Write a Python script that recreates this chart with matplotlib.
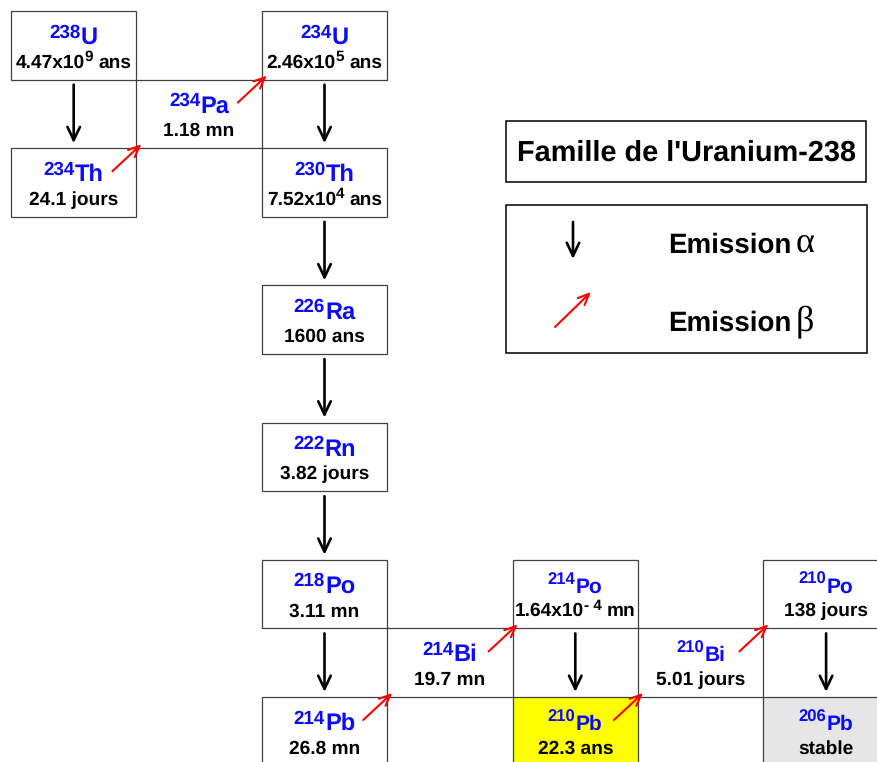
import re

import matplotlib
matplotlib.use('Agg')
import matplotlib.pyplot as plt
from matplotlib.patches import Rectangle, FancyArrowPatch

# Uranium-238 decay chain, in decay order
masses = [238, 234, 234, 234, 230, 226, 222, 218, 214, 214, 214, 210, 210, 210, 206]
symbols = ['U', 'Th', 'Pa', 'U', 'Th', 'Ra', 'Rn', 'Po', 'Pb', 'Bi', 'Po', 'Pb', 'Bi', 'Po', 'Pb']
half_lives = ['4.47x10^{9} ans', '24.1 jours', '1.18 mn', '2.46x10^{5} ans', '7.52x10^{4} ans',
              '1600 ans', '3.82 jours', '3.11 mn', '26.8 mn', '19.7 mn', '1.64x10^{- 4} mn',
              '22.3 ans', '5.01 jours', '138 jours', 'stable']
# decay mode of each nuclide (the last one is stable)
modes = ['a', 'b', 'b', 'a', 'a', 'a', 'a', 'a', 'b', 'b', 'a', 'b', 'b', 'a']

title = "Famille de l'Uranium-238"
legend_labels = ['Emission', 'Emission']
legend_greek = ['\u03b1', '\u03b2']

# layout: grid cell (column, half-row) of each nuclide
grid_col = [0, 0, 1, 2, 2, 2, 2, 2, 2, 3, 4, 4, 5, 6, 6]
grid_row = [0, 2, 1, 0, 2, 4, 6, 8, 10, 9, 8, 10, 9, 8, 10]

# style
W, H = 877, 762
X0, Y0, CW, CH = 11, 11, 125.4, 68.6
SANS = ['Liberation Sans', 'DejaVu Sans']
SERIF = ['Liberation Serif', 'DejaVu Serif']
BLUE = '#0a0aff'
fills = {11: '#ffff00', 14: '#e6e6e6'}
small_from = 10  # from 214Po on, the symbol is written smaller

plt.rcParams['text.hinting'] = 'no_hinting'

fig = plt.figure(figsize=(W / 100, H / 100), dpi=100)
ax = fig.add_axes([0, 0, 1, 1])
ax.set_xlim(0, W)
ax.set_ylim(H, 0)
ax.axis('off')
renderer = fig.canvas.get_renderer()


def rich(x, y, parts, align='center'):
    # lay text pieces side by side on one baseline
    placed = []
    for p in parts:
        t = ax.text(0, y - p.get('rise', 0), p['s'], fontsize=p['size'],
                    color=p.get('color', 'black'), fontweight=p.get('weight', 'bold'),
                    family=p.get('family', SANS), ha='left', va='baseline')
        placed.append((t, t.get_window_extent(renderer).width, p.get('gap', 0)))
    total = sum(w + g for _, w, g in placed)
    cx = x - total / 2 if align == 'center' else x
    for t, w, g in placed:
        cx += g
        t.set_x(cx)
        cx += w


def half_life_parts(s, size=13.8):
    parts = []
    for i, chunk in enumerate(re.split(r'\^\{(.*?)\}', s)):
        if not chunk:
            continue
        if i % 2:
            parts.append(dict(s=chunk, size=11, rise=6.5, gap=-0.5))
        else:
            gap = 0.278 * size / 0.72 if chunk.startswith(' ') else 0
            parts.append(dict(s=chunk.strip(), size=size, gap=gap))
    return parts


def cell(i):
    return X0 + grid_col[i] * CW, Y0 + grid_row[i] * CH


# boxes and labels
for i in range(len(masses)):
    x, y = cell(i)
    ax.add_patch(Rectangle((x, y), CW, CH, facecolor=fills.get(i, 'white'),
                           edgecolor='#404040', lw=0.9, zorder=1))
    cx = x + CW / 2
    if i >= small_from:
        sym = [dict(s=str(masses[i]), size=12, rise=8.5, color=BLUE),
               dict(s=symbols[i], size=15, color=BLUE, gap=0.5)]
    else:
        sym = [dict(s=str(masses[i]), size=13.5, rise=6.5, color=BLUE),
               dict(s=symbols[i], size=17, color=BLUE, gap=0)]
    rich(cx, y + 33, sym)
    rich(cx, y + 56.5, half_life_parts(half_lives[i]))


def alpha_arrow(p0, p1):
    ax.add_patch(FancyArrowPatch(p0, p1, arrowstyle='->,head_length=0.95,head_width=0.45',
                                 mutation_scale=10, color='black', lw=1.9,
                                 shrinkA=0, shrinkB=0, zorder=3))


def beta_arrow(p0, p1):
    ax.add_patch(FancyArrowPatch(p0, p1, arrowstyle='->,head_length=0.8,head_width=0.35',
                                 mutation_scale=10, color='#ff0000', lw=1.5,
                                 shrinkA=0, shrinkB=0, zorder=3))


# decay arrows
for i, m in enumerate(modes):
    x, y = cell(i)
    xd, yd = cell(i + 1)
    if m == 'a':
        cx = x + CW / 2
        alpha_arrow((cx, y + CH + 5), (cx, yd - 5))
    else:
        cx, cy = x + CW, y
        beta_arrow((cx - 24, cy + 23), (cx + 5, cy - 4))

# title box
ax.add_patch(Rectangle((506, 121), 360, 61, facecolor='white', edgecolor='black', lw=1.1))
ax.text(687, 161, title, fontsize=20.8, fontweight='bold', family=SANS,
        ha='center', va='baseline')

# legend box
ax.add_patch(Rectangle((506, 205), 361, 148, facecolor='white', edgecolor='black', lw=1.1))
alpha_arrow((573, 222), (573, 259))
beta_arrow((555, 327), (591, 292))
for k, yb in enumerate([253, 331]):
    rich(668, yb, [dict(s=legend_labels[k], size=20),
                   dict(s=legend_greek[k], size=26, weight='normal', family=SERIF, gap=4)],
         align='left')

fig.savefig('out.png', dpi=100)
